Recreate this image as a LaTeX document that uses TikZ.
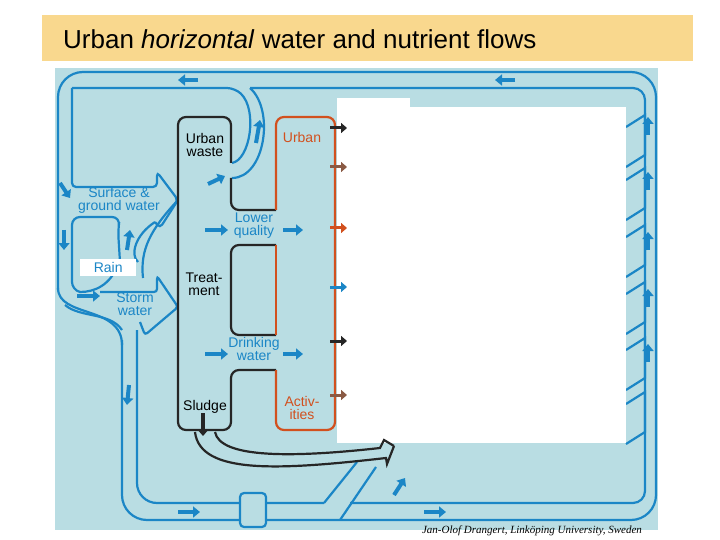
\documentclass[tikz,border=0pt]{standalone}
\usepackage{fontspec}
\setmainfont{Liberation Sans}
\newfontfamily\credfont{Liberation Serif}
\usetikzlibrary{arrows.meta}
\definecolor{bgc}{HTML}{B9DDE3}
\definecolor{pipe}{HTML}{1B86C6}
\definecolor{titc}{HTML}{F9D88E}
\definecolor{orc}{HTML}{D2501E}
\definecolor{brc}{HTML}{8A5A44}
\begin{document}
\begin{tikzpicture}[x=1pt,y=-1pt,
  bl/.style={draw=pipe,line width=2.2pt,rounded corners=8pt},
  blk/.style={draw=black!85,line width=2.2pt,rounded corners=8pt},
  orl/.style={draw=orc,line width=2.2pt,rounded corners=8pt},
  barrow/.style={draw=pipe,line width=4pt,-{Triangle[length=7pt,width=11pt]}},
  karrow/.style={line width=4pt,-{Triangle[length=6pt,width=10pt]}},
  flow/.style={text=pipe,font=\fontsize{14}{13}\selectfont,align=center,inner sep=1pt},
  lab/.style={font=\fontsize{14}{13}\selectfont,align=center,inner sep=1pt}]
\useasboundingbox (0,0) rectangle (720,540);
% title
\node[fill=titc,minimum width=651pt,minimum height=46pt,anchor=north west,inner sep=0pt] (title) at (42,15) {};
\node[font=\fontsize{26}{26}\selectfont,anchor=west,inner sep=0pt] (tt) at (63,39) {Urban \textit{horizontal} water and nutrient flows};
% background
\fill[bgc] (55,68) rectangle (658,530);
% outer loop
\draw[bl,rounded corners=25pt] (122,340)--(122,520)--(656,520)--(656,72)--(58,72)--(58,290);
\draw[bl] (58,288) .. controls (58,318) and (122,305) .. (122,345);
% inner bottom/right
\draw[bl,rounded corners=20pt] (137,330)--(137,503)--(324,503);
\draw[bl] (324,503)--(357,462);
\draw[bl] (340,520)--(376,467);
\draw[bl,rounded corners=12pt] (350,503)--(645,503)--(645,88)--(250,88);
\draw[bl] (250,88) .. controls (275,110) and (265,178) .. (232,178);
\draw[bl] (72,88)--(235,88) .. controls (258,110) and (250,160) .. (232,163);
% left rectangles and big arrows
\draw[bl,rounded corners=4pt] (72,88)--(72,187)--(157,187)--(157,172)--(178,200)--(160,228)--(155,222);
\draw[bl] (155,222) .. controls (135,235) and (130,255) .. (138,262);
\draw[bl] (178,200) .. controls (150,230) and (140,250) .. (143,278);
\draw[bl,rounded corners=8pt] (120,262)--(118,230)--(120,217)--(72,217)--(72,290)--(80,292);
\draw[bl] (80,292) .. controls (95,292) and (110,285) .. (118,265);
\draw[bl,rounded corners=3pt] (100,292)--(157,292)--(157,276)--(178,307)--(145,335)--(140,322);
\draw[bl] (65,305) .. controls (80,318) and (110,312) .. (122,330);
% small box on bottom pipe
\draw[bl,fill=bgc,rounded corners=4pt] (240,493) rectangle (266,527);
% right brackets
\foreach \y in {115,168,225,282,338,392}{
  \draw[bl,rounded corners=0pt] (626,\y+12)--(645,\y)--(645,\y+40)--(626,\y+52);
}
% black treatment box
\draw[blk] (231,163)--(231,117)--(178,117)--(178,430)--(231,430)--(231,370)--(276,370);
\draw[blk] (231,178)--(231,210)--(276,210);
\draw[blk] (276,245)--(231,245)--(231,335)--(276,335);
% orange box
\draw[orl] (276,210)--(276,117)--(335,117)--(335,430)--(276,430)--(276,370);
\draw[orl] (276,245)--(276,335);
% white box
\fill[white] (337,107) rectangle (626,443);
\fill[white] (337,98) rectangle (410,107);
% sludge pipe
\draw[blk,rounded corners=0pt] (195,432) .. controls (200,475) and (280,470) .. (386,458) -- (387,464) -- (394,446);
\draw[blk,rounded corners=0pt] (215,432) .. controls (220,458) and (290,458) .. (380,448) -- (384,440) -- (394,446);
\draw[karrow,black!85] (203,413)--(203,436);
% small arrows into white box
\draw[karrow,black!85,line width=3pt] (330,128)--(347,128);
\draw[karrow,brc,line width=3pt] (330,167)--(347,167);
\draw[karrow,orc,line width=3pt] (330,228)--(347,228);
\draw[karrow,pipe,line width=3pt] (330,287)--(347,287);
\draw[karrow,black!85,line width=3pt] (330,341)--(347,341);
\draw[karrow,brc,line width=3pt] (330,395)--(347,395);
% blue flow arrows
\draw[barrow] (198,80)--(178,80);
\draw[barrow] (515,80)--(495,80);
\draw[barrow] (60,183)--(70,198);
\draw[barrow] (64,230)--(64,250);
\draw[barrow] (77,296)--(100,296);
\draw[barrow] (127,250)--(130,230);
\draw[barrow] (256,143)--(260,120);
\draw[barrow] (208,184)--(225,176);
\draw[barrow] (205,230)--(228,230);
\draw[barrow] (283,230)--(303,230);
\draw[barrow] (205,354)--(228,354);
\draw[barrow] (283,354)--(303,354);
\draw[barrow] (129,385)--(127,405);
\draw[barrow] (178,512)--(200,512);
\draw[barrow] (424,512)--(446,512);
\draw[barrow] (394,495)--(405,478);
\foreach \y in {135,190,250,307,362}{ \draw[barrow] (648,\y)--(648,\y-18); }
% labels
\node[lab] (uw) at (205,145) {Urban\\waste};
\node[lab] (tr) at (204,284) {Treat-\\ment};
\node[lab] (sl) at (205,407) {Sludge};
\node[lab,text=orc] (ur) at (302,137) {Urban};
\node[lab,text=orc] (ac) at (302,408) {Activ-\\ities};
\node[flow] (lq) at (254,226) {Lower\\quality};
\node[flow] (dw) at (254,349) {Drinking\\water};
\node[flow] (sg) at (119,200) {Surface \&\\ground water};
\node[flow] (sw) at (135,304) {Storm\\water};
\node[flow,fill=white,anchor=west,minimum width=56pt,minimum height=17pt,inner sep=2pt] (rain) at (80,267) {Rain};
\node[font=\credfont\itshape\fontsize{11}{11}\selectfont] (cr) at (532,531) {Jan-Olof Drangert, Linköping University, Sweden};
\end{tikzpicture}
\end{document}
